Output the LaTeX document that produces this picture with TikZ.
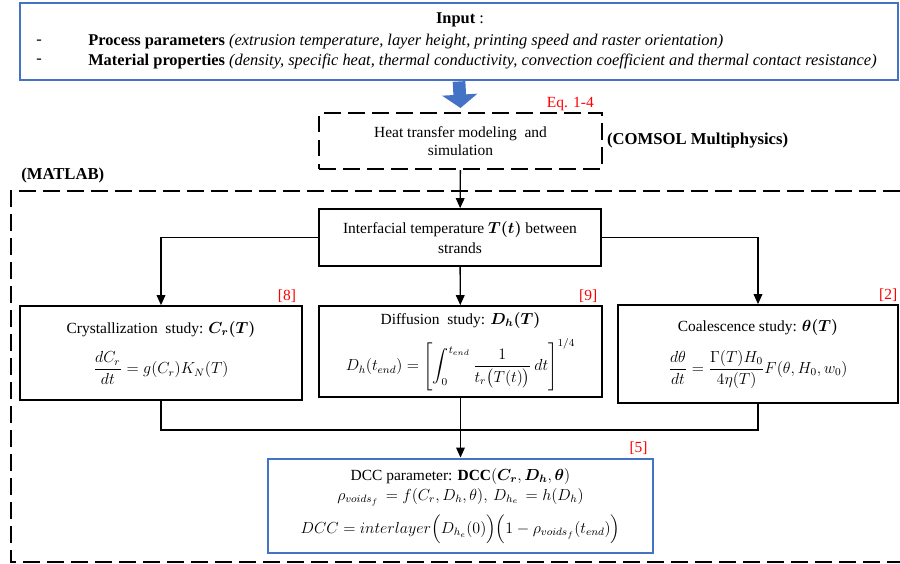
\documentclass[tikz,border=0pt]{standalone}
\usepackage{amsmath,bm}
\usepackage{fontspec}
\setmainfont{Liberation Serif}
\usetikzlibrary{arrows.meta}
\definecolor{boxblue}{RGB}{68,114,196}

\begin{document}
\begin{tikzpicture}
[x=0.75pt,y=-0.75pt,%
  every node/.style={inner sep=0pt,align=center},%
  box/.style={draw,line width=1.3pt},%
  bluebox/.style={draw=boxblue,line width=2.2pt},%
  dashbox/.style={draw,line width=1.5pt,dash pattern=on 12.5pt off 5.5pt},%
  link/.style={line width=1pt,-{Triangle[length=7.5pt,width=6.5pt]}},%
  cite/.style={text=red,anchor=south east,inner sep=2pt},%
  inline/.style={anchor=west,font=\fontsize{12.3}{14}\selectfont},%
  tag/.style={anchor=west,font=\fontsize{12.5}{14}\selectfont\bfseries}]
\fontsize{11.6}{14}\selectfont
\useasboundingbox (0,0) rectangle (900,564);
\node[bluebox,minimum width=658.5pt,minimum height=57.75pt] (input) at (459,41.5) {};
\node[font=\fontsize{12.3}{14}\selectfont] (intitle) at (460,20) {\textbf{Input} :};
\node[inline] (dashA) at (36,42) {-};
\node[inline] (procpar) at (88,42)
  {\textbf{Process parameters} \textit{(extrusion temperature, layer height, printing speed and raster orientation)}};
\node[inline] (dashB) at (36,61) {-};
\node[inline] (matpro) at (88,61)
  {\textbf{Material properties} \textit{(density, specific heat, thermal conductivity, convection coefficient and thermal contact resistance)}};
\node[dashbox,minimum width=212pt,minimum height=42pt] (heat) at (460.5,141)
  {Heat transfer modeling\ \ and\\simulation};
\node[anchor=base east,text=red] (eqref) at (594,107) {Eq. 1-4};
\node[tag,inner sep=3pt] (comsol) at (heat.east) {(COMSOL Multiphysics)};
\node[tag] (matlab) at (21,175) {(MATLAB)};
\draw[line width=1.5pt,dash pattern=on 12.5pt off 5.5pt] (900,191) -| (11,562) -- (900,562);
\node[box,minimum width=211.5pt,minimum height=42.75pt] (inter) at (460,237.5)
  {Interfacial temperature $\boldsymbol{T(t)}$ between\\[1pt]strands};
\node[box,minimum width=211.5pt,minimum height=70.5pt] (cryst) at (161,353)
  {Crystallization\ \ study: $\boldsymbol{C_r(T)}$\\[10pt]
   $\dfrac{dC_r}{dt}=g(C_r)K_N(T)$};
\node[box,minimum width=212.25pt,minimum height=68.25pt] (diff) at (460.5,351.5)
  {Diffusion\ \ study: $\boldsymbol{D_h(T)}$\\[7pt]
   $\displaystyle D_h(t_{end})=\left[\int_0^{t_{end}}\frac{1}{t_r\bigl(T(t)\bigr)}\,dt\right]^{1/4}$};
\node[box,minimum width=210pt,minimum height=73.5pt] (coal) at (758,354)
  {Coalescence study: $\boldsymbol{\theta(T)}$\\[10pt]
   $\dfrac{d\theta}{dt}=\dfrac{\Gamma(T)H_0}{4\eta(T)}F(\theta,H_0,w_0)$};
\node[bluebox,minimum width=288.75pt,minimum height=70.5pt] (dcc) at (460.5,506)
  {DCC parameter: \textbf{DCC}$(\boldsymbol{C_r},\boldsymbol{D_h},\boldsymbol{\theta})$\\[1pt]
   $\rho_{voids_f}\,=f(C_r,D_h,\theta),\,D_{h_e}\,=h(D_h)$\\[6pt]
   $DCC=interlayer\Bigl(D_{h_e}(0)\Bigr)\Bigl(1-\rho_{voids_f}(t_{end})\Bigr)$};
\node[cite] (refA) at ([xshift=-3pt]cryst.north east) {[8]};
\node[cite] (refB) at ([xshift=-2pt]diff.north east) {[9]};
\node[cite] (refC) at ([xshift=1pt]coal.north east) {[2]};
\node[cite] (refD) at ([xshift=-3pt]dcc.north east) {[5]};
\coordinate (join) at (460.5,430);
\draw[boxblue,line width=9.5pt,-{Triangle[length=10pt,width=26pt]}]
  (input.south) -- ([yshift=3pt]heat.north);
\draw[link] (heat) -- (inter);
\draw[link] (inter.west) -| (cryst.north);
\draw[link] (inter) -- (diff);
\draw[link] (inter.east) -| (coal.north);
\draw[line width=1pt] (cryst.south) |- (join);
\draw[line width=1pt] (coal.south) |- (join);
\draw[link] (diff) -- (dcc);
\end{tikzpicture}
\end{document}
